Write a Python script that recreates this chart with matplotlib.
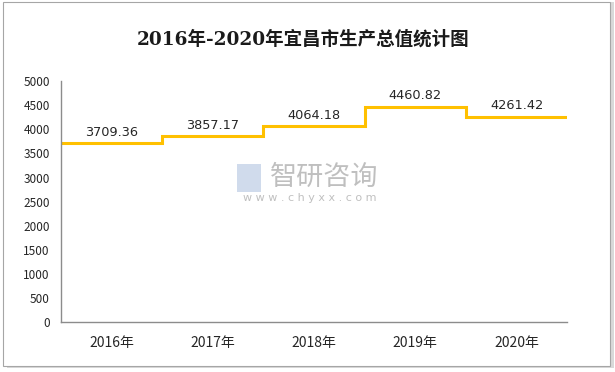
import numpy as np
import matplotlib
matplotlib.use('Agg')
import matplotlib.pyplot as plt
from matplotlib.patches import Rectangle

years = ['2016年', '2017年', '2018年', '2019年', '2020年']
gdp = [3709.36, 3857.17, 4064.18, 4460.82, 4261.42]
yticks = np.arange(0, 5001, 500)

plt.rcParams['font.family'] = ['Noto Sans CJK SC', 'DejaVu Sans']

fig = plt.figure(figsize=(6.15, 3.72), dpi=100)
# outer frame with a light shadow
fig.patches.append(Rectangle((0.012, 0.010), 0.987, 0.985, transform=fig.transFigure,
                             facecolor='#d9d9d9', edgecolor='none', zorder=0))
fig.patches.append(Rectangle((0.005, 0.017), 0.987, 0.978, transform=fig.transFigure,
                             facecolor='white', edgecolor='#a6a6a6', lw=0.8, zorder=1))

ax = fig.add_axes([0.0992, 0.134, 0.823, 0.648])
ax.set_facecolor('none')
ax.set_zorder(5)

x = np.arange(len(years))
edges = np.arange(len(years) + 1) - 0.5
ax.stairs(gdp, edges, baseline=None, color='#FFC000', lw=2.2)

for xi, v in zip(x, gdp):
    ax.annotate(f'{v:.2f}', (xi, v), xytext=(0, 8), textcoords='offset points',
                ha='center', va='center', fontsize=9.3, color='#262626',
                family=['DejaVu Sans'])

ax.set_xlim(-0.5, 4.5)
ax.set_ylim(0, 5000)
ax.set_xticks(x)
ax.set_xticklabels(years, fontsize=10, color='#262626')
ax.set_yticks(yticks)
ax.set_yticklabels([str(t) for t in yticks], fontsize=8.5, color='#262626')
ax.tick_params(axis='both', length=0)
ax.tick_params(axis='x', pad=10)
ax.tick_params(axis='y', pad=8)
for s in ['top', 'right']:
    ax.spines[s].set_visible(False)
for s in ['left', 'bottom']:
    ax.spines[s].set_color('#8c8c8c')
    ax.spines[s].set_linewidth(1)

fig.text(0.492, 0.893, '2016年-2020年宜昌市生产总值统计图', ha='center', va='center',
         fontsize=13.3, fontweight='bold', color='#1a1a1a', zorder=6,
         family=['DejaVu Serif', 'Noto Sans CJK SC'])

# watermark
fig.text(0.527, 0.522, '智研咨询', ha='center', va='center', fontsize=19.5,
         color='#b0b0b0', alpha=0.8, zorder=6)
fig.text(0.503, 0.468, 'w w w . c h y x x . c o m', ha='center', va='center',
         fontsize=8, color='#b0b0b0', alpha=0.8, zorder=6, family=['DejaVu Sans'])
fig.patches.append(Rectangle((0.385, 0.484), 0.040, 0.075, transform=fig.transFigure,
                             facecolor='#c5d3e8', edgecolor='none', alpha=0.8, zorder=3))

fig.savefig('out.png', dpi=100)
